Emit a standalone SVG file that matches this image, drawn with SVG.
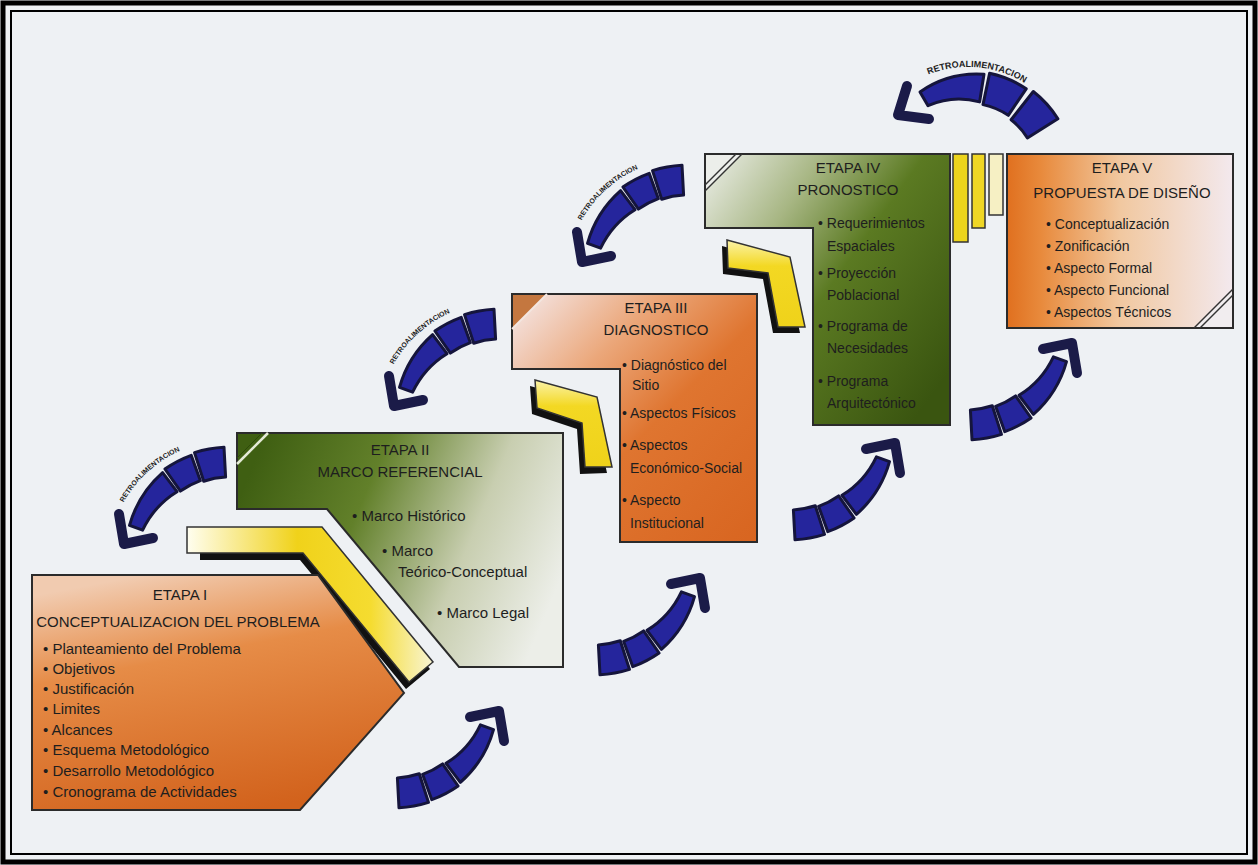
<svg xmlns="http://www.w3.org/2000/svg" xmlns:xlink="http://www.w3.org/1999/xlink" width="1258" height="865" viewBox="0 0 1258 865">
<style>
.t{font-family:"Liberation Sans",Arial,sans-serif;fill:#1e1e1e}
.h{font-size:15px;text-anchor:middle}
.i{font-size:15px}
.s{font-size:14px}
.stage{stroke:#2b2b2b;stroke-width:2;stroke-linejoin:miter}
.blk{fill:#25259c;stroke:#15153c;stroke-width:3;stroke-linejoin:round}
.head{fill:none;stroke:#1b1b48;stroke-width:10;stroke-linecap:round;stroke-linejoin:round}
.yel{stroke:#333;stroke-width:1.5;stroke-linejoin:miter}
.shadow{fill:#111}
.lbl{font-family:"Liberation Sans",Arial,sans-serif;font-weight:bold;fill:#222}
</style>
<defs>
<linearGradient id="g1" x1="0.3" y1="0" x2="0.6" y2="1">
<stop offset="0" stop-color="#f1cbb0"/><stop offset="0.35" stop-color="#e68c47"/><stop offset="1" stop-color="#d2621c"/>
</linearGradient>
<linearGradient id="g2" x1="0" y1="0.3" x2="1" y2="0.6">
<stop offset="0" stop-color="#3f5f12"/><stop offset="0.35" stop-color="#62802a"/><stop offset="0.7" stop-color="#c8ceb0"/><stop offset="1" stop-color="#eceee8"/>
</linearGradient>
<linearGradient id="g3" x1="0" y1="0" x2="1" y2="1">
<stop offset="0" stop-color="#f5ebee"/><stop offset="0.3" stop-color="#eba77a"/><stop offset="0.55" stop-color="#df7530"/><stop offset="1" stop-color="#d86520"/>
</linearGradient>
<linearGradient id="g4" x1="0" y1="0" x2="1" y2="0.8">
<stop offset="0" stop-color="#eef0ec"/><stop offset="0.3" stop-color="#a7b683"/><stop offset="0.55" stop-color="#5b7a22"/><stop offset="1" stop-color="#3a5510"/>
</linearGradient>
<linearGradient id="g5" x1="0" y1="0" x2="1" y2="0">
<stop offset="0" stop-color="#e0701f"/><stop offset="0.15" stop-color="#e88a3c"/><stop offset="0.5" stop-color="#f1c8a0"/><stop offset="1" stop-color="#f3e9ee"/>
</linearGradient>
<linearGradient id="gy" gradientUnits="userSpaceOnUse" x1="187" y1="0" x2="432" y2="0">
<stop offset="0" stop-color="#fffef0"/><stop offset="0.45" stop-color="#f0d21a"/><stop offset="0.75" stop-color="#f5dc30"/><stop offset="1" stop-color="#f8f4d0"/>
</linearGradient>
<linearGradient id="gy2" x1="0" y1="0" x2="0" y2="1">
<stop offset="0" stop-color="#fbf3a8"/><stop offset="0.3" stop-color="#f3d823"/><stop offset="1" stop-color="#efd21a"/>
</linearGradient>
<g id="arrowBody">
<path class="blk" d="M-6,-114.8 A115,115 0 0 0 -35.5,-109.4 L-26.3,-80.8 A85,85 0 0 1 -4.4,-84.9 Z"/>
<path class="blk" d="M-38.8,-106.7 A113.5,113.5 0 0 0 -65.1,-93 L-49.6,-70.9 A86.5,86.5 0 0 1 -29.6,-81.3 Z"/>
<path class="blk" d="M-67.4,-89.4 Q-91.8,-67.9 -100.5,-36.6 L-87.4,-31.8 Q-75.9,-56.2 -53,-70.3 Z"/>
<polyline class="head" points="-77,-24 -106,-18 -111,-48"/>
</g>
<path id="lblArc" d="M-117.8,-31.6 A122,122 0 0 1 -21.2,-120.1"/>
<path id="topArc" d="M906.1,86.5 A108,108 0 0 1 1044.4,98.6"/>
</defs>

<rect x="0" y="0" width="1258" height="865" fill="#eef1f4"/>
<rect x="3" y="3" width="1252" height="859" fill="none" stroke="#000" stroke-width="5"/>
<rect x="11" y="11" width="1236" height="843" fill="none" stroke="#000" stroke-width="2"/>

<g id="connectors">
<g transform="translate(230,562)"><use xlink:href="#arrowBody"/><text class="lbl" font-size="7"><textPath xlink:href="#lblArc" startOffset="50%" text-anchor="middle">RETROALIMENTACION</textPath></text></g>
<g transform="translate(500,424)"><use xlink:href="#arrowBody"/><text class="lbl" font-size="7"><textPath xlink:href="#lblArc" startOffset="50%" text-anchor="middle">RETROALIMENTACION</textPath></text></g>
<g transform="translate(688,280)"><use xlink:href="#arrowBody"/><text class="lbl" font-size="7"><textPath xlink:href="#lblArc" startOffset="50%" text-anchor="middle">RETROALIMENTACION</textPath></text></g>
<use xlink:href="#arrowBody" transform="translate(393,693) rotate(180)"/>
<use xlink:href="#arrowBody" transform="translate(594,560) rotate(180)"/>
<use xlink:href="#arrowBody" transform="translate(789,425) rotate(180)"/>
<use xlink:href="#arrowBody" transform="translate(966,325) rotate(180)"/>
<g id="topArrow">
<path class="blk" d="M1057.9,118.8 A106,106 0 0 0 1033.3,91.5 L1011.1,119.8 A70,70 0 0 1 1027.4,137.9 Z"/>
<path class="blk" d="M1026.2,88.8 A104,104 0 0 0 989.6,73.3 L983,104.6 A72,72 0 0 1 1008.3,115.3 Z"/>
<path class="blk" d="M984,74.3 Q948.9,71.8 920,91.9 L928,105.7 Q953.1,94.7 979.6,101.9 Z"/>
<polyline class="head" points="929,119 898,115 907,86"/>
<text class="lbl" font-size="9"><textPath xlink:href="#topArc" startOffset="50%" text-anchor="middle">RETROALIMENTACION</textPath></text>
</g>
</g>

<g id="band1">
<polygon class="shadow" points="200,534 319,534 430,669 406,689 300,560 200,560"/>
<polygon class="yel" fill="url(#gy)" points="187,527 322,527 433,662 409,682 303,553 187,553"/>
</g>

<g id="etapa1">
<polygon class="stage" fill="url(#g1)" points="32,575 318,575 404,693 300,810 32,810"/>
<text class="t h" x="180" y="600">ETAPA I</text>
<text class="t h" x="178" y="627">CONCEPTUALIZACION DEL PROBLEMA</text>
<text class="t i" x="43" y="654">• Planteamiento del Problema</text>
<text class="t i" x="43" y="674">• Objetivos</text>
<text class="t i" x="43" y="694">• Justificación</text>
<text class="t i" x="43" y="714">• Limites</text>
<text class="t i" x="43" y="735">• Alcances</text>
<text class="t i" x="43" y="755">• Esquema Metodológico</text>
<text class="t i" x="43" y="776">• Desarrollo Metodológico</text>
<text class="t i" x="43" y="797">• Cronograma de Actividades</text>
</g>

<g id="etapa2">
<polygon class="stage" fill="url(#g2)" points="237,433 563,433 563,667 459,667 327,509 237,509"/>
<line x1="237" y1="464" x2="268" y2="433" stroke="#e4ead6" stroke-width="2.5"/>
<line x1="237" y1="458" x2="262" y2="433" stroke="#2e4a0a" stroke-width="1"/>
<text class="t h" x="400" y="455">ETAPA II</text>
<text class="t h" x="400" y="477">MARCO REFERENCIAL</text>
<text class="t i" x="352" y="521">• Marco Histórico</text>
<text class="t i" x="382" y="556">• Marco</text>
<text class="t i" x="398" y="577">Teórico-Conceptual</text>
<text class="t i" x="437" y="618">• Marco Legal</text>
</g>

<g id="chev3">
<polygon class="shadow" points="530,386 592,403 607,473 580,474 577,429 532,414"/>
<polygon class="yel" fill="url(#gy2)" points="535,380 597,397 612,467 585,467 582,423 537,408"/>
</g>

<g id="etapa3">
<polygon class="stage" fill="url(#g3)" points="512,294 757,294 757,542 620,542 620,369 512,369"/>
<polygon points="513,295 546,295 513,328" fill="#c4773f"/>
<line x1="512" y1="329" x2="547" y2="294" stroke="#f4e6e0" stroke-width="2"/>
<text class="t h" x="656" y="313">ETAPA III</text>
<text class="t h" x="656" y="335">DIAGNOSTICO</text>
<text class="t s" x="622" y="370">• Diagnóstico del</text>
<text class="t s" x="632" y="390">Sitio</text>
<text class="t s" x="622" y="418">• Aspectos Físicos</text>
<text class="t s" x="622" y="450">• Aspectos</text>
<text class="t s" x="630" y="473">Económico-Social</text>
<text class="t s" x="622" y="505">• Aspecto</text>
<text class="t s" x="630" y="528">Institucional</text>
</g>

<g id="chev4">
<polygon class="shadow" points="722,246 785,263 800,333 773,333 763,279 723,274"/>
<polygon class="yel" fill="url(#gy2)" points="727,240 790,257 805,327 778,327 768,273 728,268"/>
</g>

<g id="etapa4">
<polygon class="stage" fill="url(#g4)" points="705,154 950,154 950,425 813,425 813,228 705,228"/>
<polygon points="706,155 741,155 706,190" fill="#eceeea"/>
<line x1="705" y1="191" x2="742" y2="154" stroke="#333" stroke-width="1.5"/>
<line x1="705" y1="185" x2="736" y2="154" stroke="#333" stroke-width="1.5"/>
<text class="t h" x="848" y="173">ETAPA IV</text>
<text class="t h" x="848" y="195">PRONOSTICO</text>
<text class="t s" x="818" y="228">• Requerimientos</text>
<text class="t s" x="827" y="251">Espaciales</text>
<text class="t s" x="818" y="278">• Proyección</text>
<text class="t s" x="827" y="300">Poblacional</text>
<text class="t s" x="818" y="331">• Programa de</text>
<text class="t s" x="827" y="353">Necesidades</text>
<text class="t s" x="818" y="386">• Programa</text>
<text class="t s" x="827" y="408">Arquitectónico</text>
</g>

<g id="bars">
<rect class="yel" x="953" y="154" width="15" height="88" fill="#ecd41c"/>
<rect class="yel" x="972" y="154" width="13" height="74" fill="#efd624"/>
<rect class="yel" x="989" y="154" width="14" height="61" fill="#f6f0c4"/>
</g>

<g id="etapa5">
<rect class="stage" x="1007" y="154" width="226" height="174" fill="url(#g5)"/>
<polygon points="1232,291 1232,327 1196,327" fill="#f1edef"/>
<line x1="1194" y1="328" x2="1233" y2="289" stroke="#333" stroke-width="1.5"/>
<line x1="1200" y1="328" x2="1233" y2="295" stroke="#333" stroke-width="1.5"/>
<text class="t h" x="1122" y="173">ETAPA V</text>
<text class="t h" x="1122" y="198">PROPUESTA DE DISEÑO</text>
<text class="t s" x="1046" y="229">• Conceptualización</text>
<text class="t s" x="1046" y="251">• Zonificación</text>
<text class="t s" x="1046" y="273">• Aspecto Formal</text>
<text class="t s" x="1046" y="295">• Aspecto Funcional</text>
<text class="t s" x="1046" y="317">• Aspectos Técnicos</text>
</g>
</svg>
